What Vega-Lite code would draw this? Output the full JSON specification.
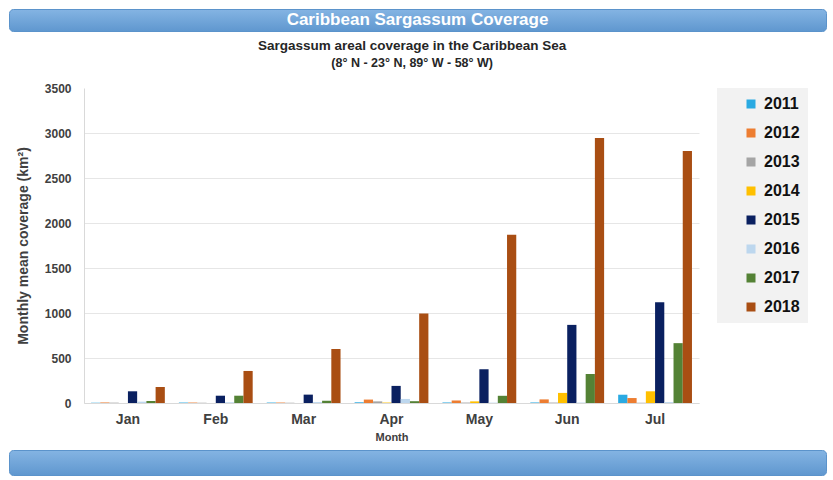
{
  "$schema": "https://vega.github.io/schema/vega-lite/v6.json",
  "background": "white",
  "padding": {"left": 8, "top": 8, "right": 5, "bottom": 5},
  "spacing": 7,
  "resolve": {"scale": {"color": "independent"}, "legend": {"color": "independent"}},
  "config": {"view": {"stroke": null}, "font": "Liberation Sans"},
  "datasets": {
    "coverage": [
      {"month": "Jan", "year": "2011", "value": 3}, {"month": "Jan", "year": "2012", "value": 6}, {"month": "Jan", "year": "2013", "value": 4}, {"month": "Jan", "year": "2014", "value": 0},
      {"month": "Jan", "year": "2015", "value": 130}, {"month": "Jan", "year": "2016", "value": 15}, {"month": "Jan", "year": "2017", "value": 22}, {"month": "Jan", "year": "2018", "value": 178},
      {"month": "Feb", "year": "2011", "value": 5}, {"month": "Feb", "year": "2012", "value": 5}, {"month": "Feb", "year": "2013", "value": 3}, {"month": "Feb", "year": "2014", "value": 0},
      {"month": "Feb", "year": "2015", "value": 81}, {"month": "Feb", "year": "2016", "value": 8}, {"month": "Feb", "year": "2017", "value": 81}, {"month": "Feb", "year": "2018", "value": 356},
      {"month": "Mar", "year": "2011", "value": 5}, {"month": "Mar", "year": "2012", "value": 5}, {"month": "Mar", "year": "2013", "value": 3}, {"month": "Mar", "year": "2014", "value": 0},
      {"month": "Mar", "year": "2015", "value": 93}, {"month": "Mar", "year": "2016", "value": 10}, {"month": "Mar", "year": "2017", "value": 25}, {"month": "Mar", "year": "2018", "value": 600},
      {"month": "Apr", "year": "2011", "value": 8}, {"month": "Apr", "year": "2012", "value": 38}, {"month": "Apr", "year": "2013", "value": 18}, {"month": "Apr", "year": "2014", "value": 5},
      {"month": "Apr", "year": "2015", "value": 190}, {"month": "Apr", "year": "2016", "value": 45}, {"month": "Apr", "year": "2017", "value": 20}, {"month": "Apr", "year": "2018", "value": 995},
      {"month": "May", "year": "2011", "value": 6}, {"month": "May", "year": "2012", "value": 28}, {"month": "May", "year": "2013", "value": 5}, {"month": "May", "year": "2014", "value": 18},
      {"month": "May", "year": "2015", "value": 375}, {"month": "May", "year": "2016", "value": 4}, {"month": "May", "year": "2017", "value": 80}, {"month": "May", "year": "2018", "value": 1870},
      {"month": "Jun", "year": "2011", "value": 6}, {"month": "Jun", "year": "2012", "value": 40}, {"month": "Jun", "year": "2013", "value": 5}, {"month": "Jun", "year": "2014", "value": 112},
      {"month": "Jun", "year": "2015", "value": 868}, {"month": "Jun", "year": "2016", "value": 5}, {"month": "Jun", "year": "2017", "value": 322}, {"month": "Jun", "year": "2018", "value": 2944},
      {"month": "Jul", "year": "2011", "value": 92}, {"month": "Jul", "year": "2012", "value": 55}, {"month": "Jul", "year": "2013", "value": 3}, {"month": "Jul", "year": "2014", "value": 130},
      {"month": "Jul", "year": "2015", "value": 1120}, {"month": "Jul", "year": "2016", "value": 10}, {"month": "Jul", "year": "2017", "value": 665}, {"month": "Jul", "year": "2018", "value": 2800}
    ]
  },
  "vconcat": [
    {
      "width": 817,
      "height": 22,
      "view": {
        "fill": {"gradient": "linear", "x1": 0, "y1": 0, "x2": 0, "y2": 1, "stops": [{"offset": 0, "color": "#84b4e3"}, {"offset": 1, "color": "#5f97cf"}]},
        "stroke": "#5b93cb", "cornerRadius": 4
      },
      "data": {"values": [{"label": "Caribbean Sargassum Coverage"}]},
      "mark": {"type": "text", "color": "white", "fontSize": 17, "fontWeight": "bold", "baseline": "middle"},
      "encoding": {"text": {"field": "label", "type": "nominal"}}
    },
    {
      "spacing": 0,
      "resolve": {"scale": {"color": "independent"}, "legend": {"color": "independent"}},
      "hconcat": [
        {
          "width": 7,
          "height": 10,
          "data": {"values": [{"label": ""}]},
          "mark": {"type": "text"},
          "encoding": {"text": {"field": "label", "type": "nominal"}}
        },
        {
          "width": 615,
          "height": 315,
          "data": {"name": "coverage"},
          "title": {
            "text": "Sargassum areal coverage in the Caribbean Sea",
            "subtitle": "(8° N - 23° N, 89° W - 58° W)",
            "fontSize": 13.5,
            "fontWeight": "bold",
            "color": "#262626",
            "subtitleFontSize": 12.5,
            "subtitleFontWeight": "bold",
            "subtitleColor": "#262626",
            "subtitlePadding": 4,
            "offset": 13,
            "anchor": "middle",
            "frame": "bounds"
          },
          "mark": {"type": "bar"},
          "encoding": {
            "x": {
              "field": "month", "type": "nominal",
              "sort": ["Jan", "Feb", "Mar", "Apr", "May", "Jun", "Jul"],
              "scale": {"paddingInner": 0.16, "paddingOuter": 0.08},
              "axis": {
                "title": "Month", "titleFontSize": 11, "titleFontWeight": "bold", "titleColor": "#404040", "titlePadding": 5,
                "labelAngle": 0, "labelFontSize": 14, "labelFontWeight": "bold", "labelColor": "#404040", "labelPadding": 9,
                "ticks": false, "domainColor": "#d9d9d9"
              }
            },
            "xOffset": {"field": "year", "type": "nominal", "scale": {"paddingInner": 0, "paddingOuter": 0}},
            "y": {
              "field": "value", "type": "quantitative",
              "scale": {"domain": [0, 3500]},
              "axis": {
                "title": "Monthly mean coverage (km²)", "titleFontSize": 14, "titleFontWeight": "bold", "titleColor": "#404040", "titlePadding": 14,
                "values": [0, 500, 1000, 1500, 2000, 2500, 3000, 3500], "format": "d",
                "labelFontSize": 12, "labelFontWeight": "bold", "labelColor": "#404040", "labelPadding": 13,
                "ticks": false, "domain": true, "domainColor": "#d9d9d9", "gridColor": "#e6e6e6",
                "gridOpacity": {"condition": {"test": "datum.value >= 3500", "value": 0}, "value": 1}
              }
            },
            "color": {
              "field": "year", "type": "nominal",
              "scale": {
                "domain": ["2011", "2012", "2013", "2014", "2015", "2016", "2017", "2018"],
                "range": ["#2aaae2", "#ed7d31", "#a5a5a5", "#ffc000", "#0a2060", "#bdd7ee", "#548235", "#a94e13"]
              },
              "legend": {
                "title": null, "orient": "right", "offset": 18,
                "fillColor": "#f2f2f2", "padding": 8, "symbolOffset": 18,
                "symbolType": "square", "symbolSize": 81, "symbolStrokeWidth": 0,
                "labelFontSize": 16, "labelFontWeight": "bold", "labelColor": "#111111", "labelOffset": 5,
                "labelExpr": "datum.label + '    '",
                "rowPadding": 13
              }
            }
          }
        }
      ]
    },
    {
      "width": 817,
      "height": 25,
      "view": {
        "fill": {"gradient": "linear", "x1": 0, "y1": 0, "x2": 0, "y2": 1, "stops": [{"offset": 0, "color": "#84b4e3"}, {"offset": 1, "color": "#5f97cf"}]},
        "stroke": "#5b93cb", "cornerRadius": 4
      },
      "data": {"values": [{"label": ""}]},
      "mark": {"type": "text"},
      "encoding": {"text": {"field": "label", "type": "nominal"}}
    }
  ]
}
